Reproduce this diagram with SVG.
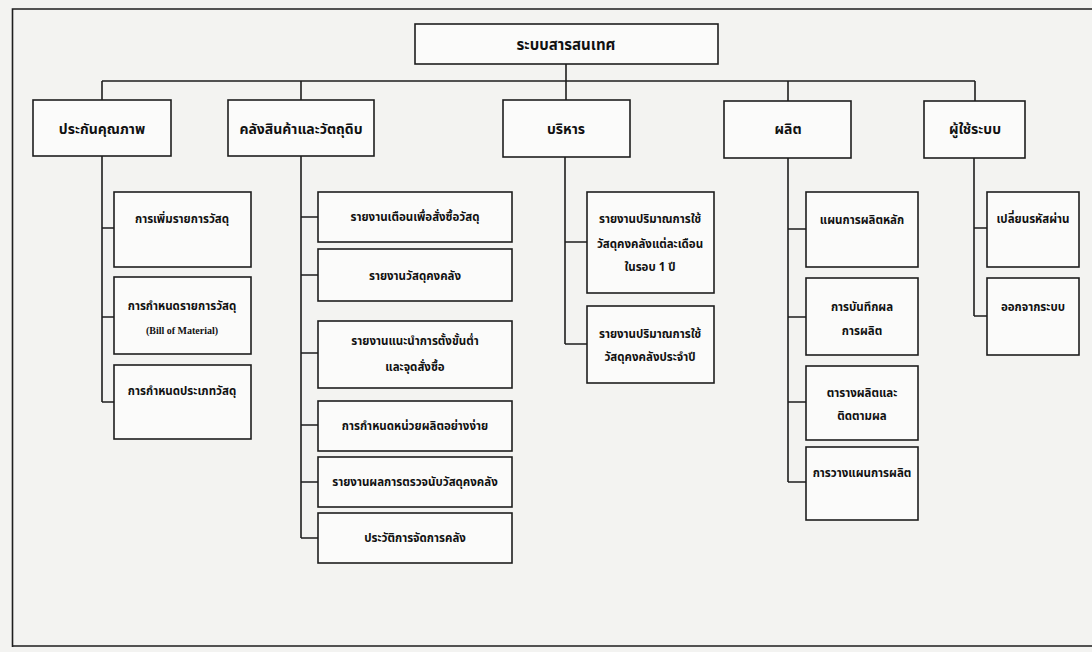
<svg xmlns="http://www.w3.org/2000/svg" width="1092" height="652" viewBox="0 0 1092 652">
<style>
.bx{fill:#fbfbfa;stroke:#1e1e1e;stroke-width:1.6}
.ln{fill:none;stroke:#1e1e1e;stroke-width:1.6}
.t{font-family:"Noto Sans Thai","Noto Sans","DejaVu Sans",sans-serif;font-weight:bold;fill:#111;text-anchor:middle;dominant-baseline:central}
.t1{font-size:14px}
.t2{font-size:11.5px}
.t0{font-size:15px}
.en{font-family:"Liberation Serif",serif;font-weight:bold;font-size:10px;fill:#111;text-anchor:middle;dominant-baseline:central}
</style>
<rect x="0" y="0" width="1092" height="652" fill="#f3f3f1"/>
<path class="ln" d="M12.5,647 V9 H1092 M12.5,646 H1092" stroke-width="2"/>
<g id="connectors">
<path class="ln" d="M566,64 V81 M102,81 H975 M102,81 V100 M301,81 V100 M566,81 V100 M788,81 V101 M975,81 V101"/>
<path class="ln" d="M102,156 V402 M102,228 H114 M102,317 H114 M102,402 H114"/>
<path class="ln" d="M301,156 V538 M301,217 H318 M301,275 H318 M301,353 H318 M301,425 H318 M301,482 H318 M301,538 H318"/>
<path class="ln" d="M565,157 V344 M565,242 H587 M565,344 H587"/>
<path class="ln" d="M788,157 V482 M788,229 H806 M788,317 H806 M788,402 H806 M788,482 H806"/>
<path class="ln" d="M974,157 V316 M974,228 H987 M974,316 H987"/>
</g>
<g id="root"><rect class="bx" x="415" y="24" width="303" height="40"/><text class="t t0" x="566" y="45">ระบบสารสนเทศ</text></g>
<g id="n-qa"><rect class="bx" x="33" y="100" width="138" height="56"/><text class="t t1" x="102" y="129">ประกันคุณภาพ</text></g>
<g id="n-wh"><rect class="bx" x="228" y="100" width="146" height="56"/><text class="t t1" x="301" y="129">คลังสินค้าและวัตถุดิบ</text></g>
<g id="n-mg"><rect class="bx" x="503" y="100" width="127" height="57"/><text class="t t1" x="566" y="129">บริหาร</text></g>
<g id="n-pd"><rect class="bx" x="724" y="101" width="127" height="57"/><text class="t t1" x="788" y="129">ผลิต</text></g>
<g id="n-us"><rect class="bx" x="924" y="101" width="101" height="57"/><text class="t t1" x="975" y="129">ผู้ใช้ระบบ</text></g>

<g id="qa1"><rect class="bx" x="114" y="192" width="137" height="75"/><text class="t t2" x="182" y="219">การเพิ่มรายการวัสดุ</text></g>
<g id="qa2"><rect class="bx" x="114" y="277" width="137" height="77"/><text class="t t2" x="182" y="306">การกำหนดรายการวัสดุ</text><text class="en" x="182" y="330">(Bill of Material)</text></g>
<g id="qa3"><rect class="bx" x="114" y="365" width="137" height="74"/><text class="t t2" x="182" y="391">การกำหนดประเภทวัสดุ</text></g>

<g id="wh1"><rect class="bx" x="318" y="192" width="194" height="50"/><text class="t t2" x="415" y="217">รายงานเตือนเพื่อสั่งซื้อวัสดุ</text></g>
<g id="wh2"><rect class="bx" x="318" y="249" width="194" height="52"/><text class="t t2" x="415" y="276">รายงานวัสดุคงคลัง</text></g>
<g id="wh3"><rect class="bx" x="318" y="321" width="194" height="67"/><text class="t t2" x="415" y="341">รายงานแนะนำการตั้งขั้นต่ำ</text><text class="t t2" x="415" y="367">และจุดสั่งซื้อ</text></g>
<g id="wh4"><rect class="bx" x="318" y="401" width="194" height="50"/><text class="t t2" x="415" y="426">การกำหนดหน่วยผลิตอย่างง่าย</text></g>
<g id="wh5"><rect class="bx" x="318" y="457" width="194" height="50"/><text class="t t2" x="415" y="482">รายงานผลการตรวจนับวัสดุคงคลัง</text></g>
<g id="wh6"><rect class="bx" x="318" y="513" width="194" height="50"/><text class="t t2" x="415" y="538">ประวัติการจัดการคลัง</text></g>

<g id="mg1"><rect class="bx" x="587" y="192" width="127" height="101"/><text class="t t2" x="650" y="219">รายงานปริมาณการใช้</text><text class="t t2" x="650" y="244">วัสดุคงคลังแต่ละเดือน</text><text class="t t2" x="650" y="267">ในรอบ 1 ปี</text></g>
<g id="mg2"><rect class="bx" x="587" y="306" width="127" height="77"/><text class="t t2" x="650" y="334">รายงานปริมาณการใช้</text><text class="t t2" x="650" y="357">วัสดุคงคลังประจำปี</text></g>

<g id="pd1"><rect class="bx" x="806" y="192" width="112" height="75"/><text class="t t2" x="862" y="220">แผนการผลิตหลัก</text></g>
<g id="pd2"><rect class="bx" x="806" y="278" width="112" height="77"/><text class="t t2" x="862" y="307">การบันทึกผล</text><text class="t t2" x="862" y="331">การผลิต</text></g>
<g id="pd3"><rect class="bx" x="806" y="366" width="112" height="74"/><text class="t t2" x="862" y="393">ตารางผลิตและ</text><text class="t t2" x="862" y="416">ติดตามผล</text></g>
<g id="pd4"><rect class="bx" x="806" y="447" width="112" height="73"/><text class="t t2" x="862" y="473">การวางแผนการผลิต</text></g>

<g id="us1"><rect class="bx" x="987" y="192" width="92" height="75"/><text class="t t2" x="1033" y="219">เปลี่ยนรหัสผ่าน</text></g>
<g id="us2"><rect class="bx" x="987" y="278" width="92" height="77"/><text class="t t2" x="1033" y="307">ออกจากระบบ</text></g>
</svg>
